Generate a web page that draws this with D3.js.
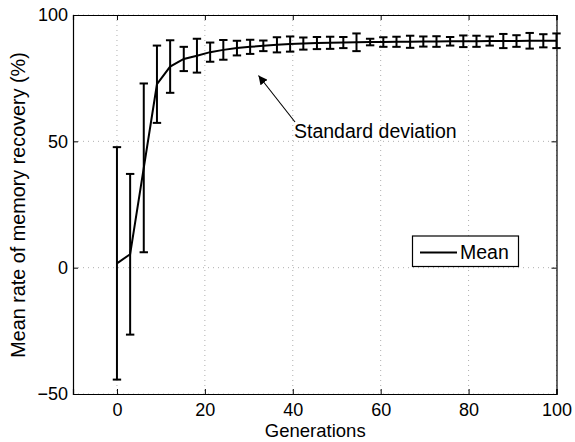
<!DOCTYPE html>
<html>
<head>
<meta charset="utf-8">
<script src="https://cdn.jsdelivr.net/npm/d3@7"></script>
<style>
  html, body { margin: 0; padding: 0; background: #fff; }
  svg text { font-family: "Liberation Sans", Arial, Helvetica, sans-serif; fill: #000; }
</style>
</head>
<body>
<svg id="chart" width="575" height="442"></svg>
<script>
// generations (x of each error bar)
var generations = [0, 3.0, 6.1, 9.1, 12.1, 15.2, 18.2, 21.2, 24.2, 27.3, 30.3, 33.3, 36.4, 39.4,
    42.4, 45.5, 48.5, 51.5, 54.5, 57.6, 60.6, 63.6, 66.7, 69.7, 72.7, 75.8, 78.8, 81.8, 84.8,
    87.9, 90.9, 93.9, 97.0, 100];
// mean rate of memory recovery (%)
var meanRate = [1.7, 5.3, 39.5, 72.6, 79.6, 82.6, 83.9, 85.3, 86.2, 86.9, 87.4, 87.8, 88.2, 88.5,
    88.7, 88.9, 89.0, 89.1, 89.2, 89.3, 89.3, 89.4, 89.4, 89.5, 89.5, 89.6, 89.6, 89.6, 89.7,
    89.7, 89.7, 89.8, 89.8, 89.8];
// standard deviation
var stdDev = [46, 31.8, 33.4, 15.3, 10.4, 4.8, 6.7, 3.8, 3.9, 2.9, 2.8, 2.1, 3.0, 3.0,
    2.4, 2.4, 2.4, 2.2, 3.5, 1.3, 1.9, 2.0, 2.4, 2.0, 2.1, 1.7, 2.3, 2.2, 1.8,
    2.8, 2.3, 3.1, 2.6, 2.9];

var xTicks = [0, 20, 40, 60, 80, 100];
var yTicks = [-50, 0, 50, 100];

var svg = d3.select('#chart');
var L = 73, R = 556.5, T = 15, B = 394;

var x = d3.scaleLinear().domain([-10, 100]).range([L, R]);
var y = d3.scaleLinear().domain([-50, 100]).range([B, T]);

var pts = generations.map(function (g, i) {
    return { g: g, m: meanRate[i], s: stdDev[i] };
});

// grid (dotted)
var grid = svg.append('g').attr('class', 'grid');
xTicks.forEach(function (t) {
    grid.append('line')
        .attr('x1', x(t)).attr('x2', x(t)).attr('y1', T).attr('y2', B)
        .attr('stroke', '#9a9a9a').attr('stroke-width', 0.8).attr('stroke-dasharray', '1,4');
});
yTicks.forEach(function (t) {
    grid.append('line')
        .attr('x1', L).attr('x2', R).attr('y1', y(t)).attr('y2', y(t))
        .attr('stroke', '#9a9a9a').attr('stroke-width', 0.8).attr('stroke-dasharray', '1,4');
});

// axes (MATLAB style box, inward ticks)
var xAxisB = d3.axisBottom(x).tickValues(xTicks).tickSize(-5).tickPadding(9)
    .tickFormat(function (d) { return d3.format('')(d); });
var xAxisT = d3.axisTop(x).tickValues(xTicks).tickSize(-5).tickFormat('');
var yAxisL = d3.axisLeft(y).tickValues(yTicks).tickSize(-5).tickPadding(5)
    .tickFormat(function (d) { return d < 0 ? '\u2212' + Math.abs(d) : d; });
var yAxisR = d3.axisRight(y).tickValues(yTicks).tickSize(-5).tickFormat('');

function styleAxis(g) {
    g.select('.domain').attr('stroke', '#000').attr('stroke-width', 1.2);
    g.selectAll('.tick line').attr('stroke', '#000');
    g.selectAll('.tick text').attr('font-size', 18).attr('fill', '#000')
        .attr('font-family', '"Liberation Sans", Arial, sans-serif');
}
svg.append('g').attr('transform', 'translate(0,' + B + ')').call(xAxisB).call(styleAxis);
svg.append('g').attr('transform', 'translate(0,' + T + ')').call(xAxisT).call(styleAxis);
svg.append('g').attr('transform', 'translate(' + L + ',0)').call(yAxisL).call(styleAxis);
svg.append('g').attr('transform', 'translate(' + R + ',0)').call(yAxisR).call(styleAxis);

// error bars
var cap = 4.2;
var eb = svg.append('g').attr('class', 'errorbars')
    .attr('stroke', '#000').attr('stroke-width', 2).attr('fill', 'none');
pts.forEach(function (d) {
    var cx = x(d.g), y0 = y(d.m - d.s), y1 = y(d.m + d.s);
    eb.append('line').attr('x1', cx).attr('x2', cx).attr('y1', y0).attr('y2', y1);
    eb.append('line').attr('x1', cx - cap).attr('x2', cx + cap).attr('y1', y0).attr('y2', y0);
    eb.append('line').attr('x1', cx - cap).attr('x2', cx + cap).attr('y1', y1).attr('y2', y1);
});

// mean line
svg.append('path')
    .datum(pts)
    .attr('fill', 'none').attr('stroke', '#000').attr('stroke-width', 2)
    .attr('d', d3.line().x(function (d) { return x(d.g); }).y(function (d) { return y(d.m); }));

// annotation arrow
svg.append('defs').append('marker')
    .attr('id', 'arrow').attr('viewBox', '0 0 10 10').attr('refX', 10).attr('refY', 5)
    .attr('markerWidth', 9).attr('markerHeight', 9).attr('markerUnits', 'userSpaceOnUse')
    .attr('orient', 'auto')
    .append('path').attr('d', 'M0,0 L10,5 L0,10 z').attr('fill', '#000');
svg.append('line')
    .attr('x1', 295).attr('y1', 122).attr('x2', 258.5).attr('y2', 75.5)
    .attr('stroke', '#000').attr('stroke-width', 1.1).attr('marker-end', 'url(#arrow)');
svg.append('text').attr('x', 294).attr('y', 138).attr('font-size', 19.5).text('Standard deviation');

// legend
var lg = svg.append('g').attr('class', 'legend');
lg.append('rect').attr('x', 412.5).attr('y', 236).attr('width', 106).attr('height', 30.5)
    .attr('fill', '#fff').attr('stroke', '#000').attr('stroke-width', 1.2);
lg.append('line').attr('x1', 420).attr('x2', 457).attr('y1', 252.5).attr('y2', 252.5)
    .attr('stroke', '#000').attr('stroke-width', 2);
lg.append('text').attr('x', 460).attr('y', 258.5).attr('font-size', 19.5).text('Mean');

// axis labels
svg.append('text').attr('x', (L + R) / 2 + 0.5).attr('y', 437).attr('text-anchor', 'middle')
    .attr('font-size', 18.5).text('Generations');
svg.append('text').attr('transform', 'translate(25,' + ((T + B) / 2 + 0.5) + ') rotate(-90)')
    .attr('text-anchor', 'middle').attr('font-size', 19.8).text('Mean rate of memory recovery (%)');
</script>
</body>
</html>
